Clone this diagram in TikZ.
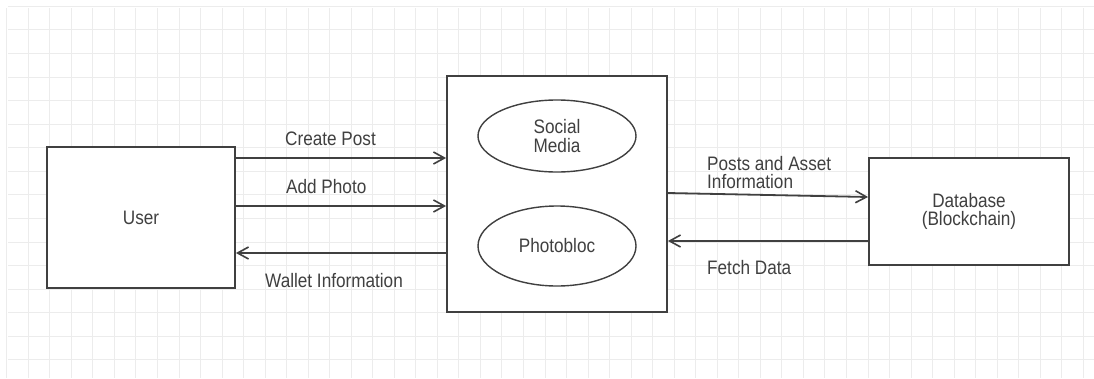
\documentclass[tikz,border=0pt]{standalone}
\usepackage{fontspec}
\setmainfont{Liberation Sans}[FakeStretch=0.88]
\usetikzlibrary{arrows.meta,shapes.geometric}
\definecolor{ink}{HTML}{404040}
\definecolor{gridgray}{HTML}{ECECEC}
\tikzset{
  box/.style={draw=ink, line width=1.8pt, fill=white, rectangle},
  oval/.style={draw=ink, line width=1.4pt, ellipse, align=center},
  flow/.style={draw=ink, line width=1.8pt, -{Straight Barb[length=11pt,width=12pt,line width=1.6pt]}},
  lbl/.style={anchor=west, inner sep=0pt, align=left, text=ink},
}
\begin{document}
\begin{tikzpicture}[x=1pt, y=-1pt, font=\fontsize{19.5}{18.5}\selectfont, text=ink]
  \useasboundingbox (0,0) rectangle (1094,378);
  \fill[white] (0,0) rectangle (1094,378);
  \foreach \i in {0,...,50}
    \draw[gridgray, line width=1pt] (6.8+21.53*\i,8) -- (6.8+21.53*\i,378);
  \foreach \j in {0,...,15}
    \draw[gridgray, line width=1pt] (8,6.4+23.57*\j) -- (1094,6.4+23.57*\j);

  \node[box, minimum width=188pt, minimum height=141pt] (User) at (141,217.5) {User};
  \node[box, minimum width=220pt, minimum height=236pt] (Platform) at (557,194) {};
  \node[oval, minimum width=158pt, minimum height=72pt, inner sep=0pt] (Social) at (557,136) {Social\\Media};
  \node[oval, minimum width=158pt, minimum height=80pt, inner sep=0pt] (Photobloc) at (557,246) {Photobloc};
  \node[box, minimum width=200pt, minimum height=107pt, align=center] (Database) at (969,211.5) {Database\\(Blockchain)};

  \draw[flow] ([yshift=59.5pt]User.east) -- ([yshift=59.5pt]User.east -| Platform.west);
  \draw[flow] ([yshift=11.5pt]User.east) -- ([yshift=11.5pt]User.east -| Platform.west);
  \draw[flow] ([yshift=-35.5pt]User.east -| Platform.west) -- ([yshift=-35.5pt]User.east);
  \draw[flow] ([yshift=1pt]Platform.east) -- ([yshift=14.5pt]Database.west);
  \draw[flow] ([yshift=-29.5pt]Database.west) -- ([yshift=-29.5pt]Database.west -| Platform.east);

  \node[lbl] (CreatePost) at (285,139) {Create Post};
  \node[lbl] (AddPhoto) at (286,187) {Add Photo};
  \node[lbl] (Wallet) at (265,281) {Wallet Information};
  \node[lbl] (PostsAsset) at (707,172.5) {Posts and Asset\\Information};
  \node[lbl] (FetchData) at (707,268) {Fetch Data};
\end{tikzpicture}
\end{document}
